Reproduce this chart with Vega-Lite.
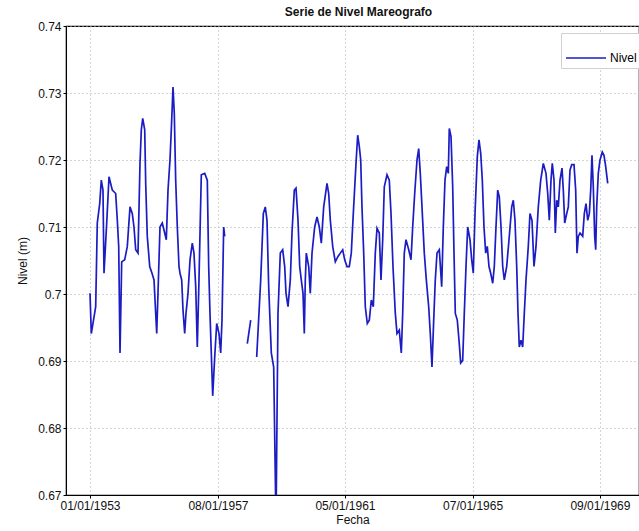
{
  "$schema": "https://vega.github.io/schema/vega-lite/v6.json",
  "autosize": "none",
  "width": 573,
  "height": 469,
  "padding": {"left": 66, "top": 26, "right": 0, "bottom": 36},
  "background": "white",
  "title": {"text": "Serie de Nivel Mareografo", "fontSize": 12, "fontWeight": "bold", "offset": 1, "dx": 6, "color": "#111"},
  "config": {
    "font": "Liberation Sans",
    "view": {"stroke": "black", "strokeWidth": 1.2},
    "axis": {"domainColor": "black", "tickColor": "black", "labelColor": "#111", "titleColor": "#111", "labelFontSize": 12, "titleFontSize": 12, "titleFontWeight": "normal", "grid": true, "gridDash": [1, 3], "gridColor": "#a8a8a8", "tickSize": 3}
  },
  "data": {"values": [
    {"t": 1953.000, "v": 0.7001, "s": 1}, {"t": 1953.041, "v": 0.6941, "s": 1}, {"t": 1953.179, "v": 0.6981, "s": 1}, {"t": 1953.229, "v": 0.7106, "s": 1}, {"t": 1953.305, "v": 0.7135, "s": 1}, {"t": 1953.355, "v": 0.7170, "s": 1}, {"t": 1953.408, "v": 0.7155, "s": 1}, {"t": 1953.440, "v": 0.7031, "s": 1}, {"t": 1953.525, "v": 0.7106, "s": 1}, {"t": 1953.597, "v": 0.7175, "s": 1}, {"t": 1953.701, "v": 0.7155, "s": 1}, {"t": 1953.807, "v": 0.7150, "s": 1}, {"t": 1953.858, "v": 0.7110, "s": 1}, {"t": 1953.902, "v": 0.7071, "s": 1}, {"t": 1953.943, "v": 0.6912, "s": 1}, {"t": 1953.996, "v": 0.7048, "s": 1}, {"t": 1954.090, "v": 0.7051, "s": 1}, {"t": 1954.172, "v": 0.7071, "s": 1}, {"t": 1954.257, "v": 0.7130, "s": 1}, {"t": 1954.329, "v": 0.7120, "s": 1}, {"t": 1954.382, "v": 0.7100, "s": 1}, {"t": 1954.436, "v": 0.7066, "s": 1}, {"t": 1954.508, "v": 0.7061, "s": 1}, {"t": 1954.571, "v": 0.7195, "s": 1}, {"t": 1954.612, "v": 0.7245, "s": 1}, {"t": 1954.656, "v": 0.7262, "s": 1}, {"t": 1954.719, "v": 0.7245, "s": 1}, {"t": 1954.750, "v": 0.7165, "s": 1}, {"t": 1954.800, "v": 0.7086, "s": 1}, {"t": 1954.876, "v": 0.7041, "s": 1}, {"t": 1954.948, "v": 0.7031, "s": 1}, {"t": 1955.011, "v": 0.7021, "s": 1}, {"t": 1955.064, "v": 0.6971, "s": 1}, {"t": 1955.096, "v": 0.6941, "s": 1}, {"t": 1955.136, "v": 0.7001, "s": 1}, {"t": 1955.199, "v": 0.7100, "s": 1}, {"t": 1955.271, "v": 0.7106, "s": 1}, {"t": 1955.347, "v": 0.7091, "s": 1}, {"t": 1955.397, "v": 0.7081, "s": 1}, {"t": 1955.451, "v": 0.7155, "s": 1}, {"t": 1955.513, "v": 0.7200, "s": 1}, {"t": 1955.554, "v": 0.7245, "s": 1}, {"t": 1955.608, "v": 0.7309, "s": 1}, {"t": 1955.648, "v": 0.7270, "s": 1}, {"t": 1955.692, "v": 0.7170, "s": 1}, {"t": 1955.743, "v": 0.7100, "s": 1}, {"t": 1955.796, "v": 0.7041, "s": 1}, {"t": 1955.828, "v": 0.7031, "s": 1}, {"t": 1955.881, "v": 0.7021, "s": 1}, {"t": 1955.922, "v": 0.6976, "s": 1}, {"t": 1955.975, "v": 0.6941, "s": 1}, {"t": 1956.016, "v": 0.6971, "s": 1}, {"t": 1956.079, "v": 0.7001, "s": 1}, {"t": 1956.142, "v": 0.7051, "s": 1}, {"t": 1956.214, "v": 0.7076, "s": 1}, {"t": 1956.267, "v": 0.7061, "s": 1}, {"t": 1956.321, "v": 0.7011, "s": 1}, {"t": 1956.371, "v": 0.6921, "s": 1}, {"t": 1956.424, "v": 0.7021, "s": 1}, {"t": 1956.465, "v": 0.7110, "s": 1}, {"t": 1956.497, "v": 0.7178, "s": 1}, {"t": 1956.604, "v": 0.7180, "s": 1}, {"t": 1956.685, "v": 0.7170, "s": 1}, {"t": 1956.729, "v": 0.7041, "s": 1}, {"t": 1956.770, "v": 0.6971, "s": 1}, {"t": 1956.811, "v": 0.6912, "s": 1}, {"t": 1956.855, "v": 0.6848, "s": 1}, {"t": 1956.918, "v": 0.6906, "s": 1}, {"t": 1956.981, "v": 0.6956, "s": 1}, {"t": 1957.053, "v": 0.6941, "s": 1}, {"t": 1957.106, "v": 0.6912, "s": 1}, {"t": 1957.147, "v": 0.6961, "s": 1}, {"t": 1957.200, "v": 0.7100, "s": 1}, {"t": 1957.232, "v": 0.7086, "s": 1},
    {"t": 1957.942, "v": 0.6926, "s": 2}, {"t": 1958.049, "v": 0.6961, "s": 2},
    {"t": 1958.237, "v": 0.6906, "s": 3}, {"t": 1958.363, "v": 0.7021, "s": 3}, {"t": 1958.445, "v": 0.7120, "s": 3}, {"t": 1958.507, "v": 0.7130, "s": 3}, {"t": 1958.561, "v": 0.7110, "s": 3}, {"t": 1958.614, "v": 0.7011, "s": 3}, {"t": 1958.696, "v": 0.6912, "s": 3}, {"t": 1958.771, "v": 0.6891, "s": 3}, {"t": 1958.844, "v": 0.6655, "s": 3}, {"t": 1958.906, "v": 0.6971, "s": 3}, {"t": 1958.979, "v": 0.7061, "s": 3}, {"t": 1959.054, "v": 0.7066, "s": 3}, {"t": 1959.117, "v": 0.7041, "s": 3}, {"t": 1959.158, "v": 0.7001, "s": 3}, {"t": 1959.221, "v": 0.6981, "s": 3}, {"t": 1959.293, "v": 0.7021, "s": 3}, {"t": 1959.346, "v": 0.7091, "s": 3}, {"t": 1959.419, "v": 0.7155, "s": 3}, {"t": 1959.472, "v": 0.7158, "s": 3}, {"t": 1959.535, "v": 0.7110, "s": 3}, {"t": 1959.588, "v": 0.7041, "s": 3}, {"t": 1959.638, "v": 0.7021, "s": 3}, {"t": 1959.692, "v": 0.7001, "s": 3}, {"t": 1959.733, "v": 0.6941, "s": 3}, {"t": 1959.764, "v": 0.7021, "s": 3}, {"t": 1959.796, "v": 0.7061, "s": 3}, {"t": 1959.871, "v": 0.7041, "s": 3}, {"t": 1959.921, "v": 0.7001, "s": 3}, {"t": 1959.975, "v": 0.7061, "s": 3}, {"t": 1960.059, "v": 0.7100, "s": 3}, {"t": 1960.132, "v": 0.7115, "s": 3}, {"t": 1960.204, "v": 0.7100, "s": 3}, {"t": 1960.267, "v": 0.7076, "s": 3}, {"t": 1960.342, "v": 0.7130, "s": 3}, {"t": 1960.446, "v": 0.7165, "s": 3}, {"t": 1960.499, "v": 0.7150, "s": 3}, {"t": 1960.550, "v": 0.7110, "s": 3}, {"t": 1960.625, "v": 0.7071, "s": 3}, {"t": 1960.707, "v": 0.7048, "s": 3}, {"t": 1960.791, "v": 0.7056, "s": 3}, {"t": 1960.864, "v": 0.7061, "s": 3}, {"t": 1960.939, "v": 0.7066, "s": 3}, {"t": 1961.002, "v": 0.7051, "s": 3}, {"t": 1961.074, "v": 0.7041, "s": 3}, {"t": 1961.146, "v": 0.7041, "s": 3}, {"t": 1961.209, "v": 0.7061, "s": 3}, {"t": 1961.272, "v": 0.7120, "s": 3}, {"t": 1961.357, "v": 0.7195, "s": 3}, {"t": 1961.410, "v": 0.7237, "s": 3}, {"t": 1961.461, "v": 0.7220, "s": 3}, {"t": 1961.505, "v": 0.7200, "s": 3}, {"t": 1961.545, "v": 0.7130, "s": 3}, {"t": 1961.599, "v": 0.7061, "s": 3}, {"t": 1961.649, "v": 0.6981, "s": 3}, {"t": 1961.712, "v": 0.6956, "s": 3}, {"t": 1961.775, "v": 0.6961, "s": 3}, {"t": 1961.838, "v": 0.6991, "s": 3}, {"t": 1961.901, "v": 0.6981, "s": 3}, {"t": 1961.963, "v": 0.7061, "s": 3}, {"t": 1962.017, "v": 0.7098, "s": 3}, {"t": 1962.089, "v": 0.7091, "s": 3}, {"t": 1962.142, "v": 0.7021, "s": 3}, {"t": 1962.196, "v": 0.7081, "s": 3}, {"t": 1962.246, "v": 0.7160, "s": 3}, {"t": 1962.331, "v": 0.7178, "s": 3}, {"t": 1962.403, "v": 0.7170, "s": 3}, {"t": 1962.457, "v": 0.7120, "s": 3}, {"t": 1962.519, "v": 0.7041, "s": 3}, {"t": 1962.592, "v": 0.6971, "s": 3}, {"t": 1962.645, "v": 0.6941, "s": 3}, {"t": 1962.717, "v": 0.6946, "s": 3}, {"t": 1962.780, "v": 0.6912, "s": 3}, {"t": 1962.824, "v": 0.6971, "s": 3}, {"t": 1962.874, "v": 0.7061, "s": 3}, {"t": 1962.928, "v": 0.7081, "s": 3}, {"t": 1963.013, "v": 0.7066, "s": 3}, {"t": 1963.085, "v": 0.7051, "s": 3}, {"t": 1963.138, "v": 0.7100, "s": 3}, {"t": 1963.201, "v": 0.7150, "s": 3}, {"t": 1963.273, "v": 0.7200, "s": 3}, {"t": 1963.327, "v": 0.7217, "s": 3}, {"t": 1963.377, "v": 0.7180, "s": 3}, {"t": 1963.430, "v": 0.7130, "s": 3}, {"t": 1963.503, "v": 0.7061, "s": 3}, {"t": 1963.566, "v": 0.7021, "s": 3}, {"t": 1963.641, "v": 0.6981, "s": 3}, {"t": 1963.691, "v": 0.6941, "s": 3}, {"t": 1963.744, "v": 0.6891, "s": 3}, {"t": 1963.798, "v": 0.6961, "s": 3}, {"t": 1963.848, "v": 0.7021, "s": 3}, {"t": 1963.902, "v": 0.7061, "s": 3}, {"t": 1963.974, "v": 0.7066, "s": 3}, {"t": 1964.049, "v": 0.7011, "s": 3}, {"t": 1964.100, "v": 0.7100, "s": 3}, {"t": 1964.153, "v": 0.7170, "s": 3}, {"t": 1964.206, "v": 0.7190, "s": 3}, {"t": 1964.257, "v": 0.7180, "s": 3}, {"t": 1964.288, "v": 0.7247, "s": 3}, {"t": 1964.342, "v": 0.7235, "s": 3}, {"t": 1964.395, "v": 0.7160, "s": 3}, {"t": 1964.436, "v": 0.7061, "s": 3}, {"t": 1964.477, "v": 0.6971, "s": 3}, {"t": 1964.539, "v": 0.6961, "s": 3}, {"t": 1964.593, "v": 0.6931, "s": 3}, {"t": 1964.646, "v": 0.6897, "s": 3}, {"t": 1964.709, "v": 0.6901, "s": 3}, {"t": 1964.759, "v": 0.6971, "s": 3}, {"t": 1964.813, "v": 0.7041, "s": 3}, {"t": 1964.866, "v": 0.7100, "s": 3}, {"t": 1964.938, "v": 0.7081, "s": 3}, {"t": 1964.992, "v": 0.7051, "s": 3}, {"t": 1965.042, "v": 0.7031, "s": 3}, {"t": 1965.096, "v": 0.7120, "s": 3}, {"t": 1965.168, "v": 0.7205, "s": 3}, {"t": 1965.221, "v": 0.7230, "s": 3}, {"t": 1965.275, "v": 0.7210, "s": 3}, {"t": 1965.325, "v": 0.7170, "s": 3}, {"t": 1965.378, "v": 0.7100, "s": 3}, {"t": 1965.432, "v": 0.7061, "s": 3}, {"t": 1965.482, "v": 0.7071, "s": 3}, {"t": 1965.535, "v": 0.7041, "s": 3}, {"t": 1965.589, "v": 0.7031, "s": 3}, {"t": 1965.652, "v": 0.7016, "s": 3}, {"t": 1965.702, "v": 0.7041, "s": 3}, {"t": 1965.755, "v": 0.7100, "s": 3}, {"t": 1965.809, "v": 0.7155, "s": 3}, {"t": 1965.859, "v": 0.7145, "s": 3}, {"t": 1965.913, "v": 0.7100, "s": 3}, {"t": 1965.966, "v": 0.7041, "s": 3}, {"t": 1966.016, "v": 0.7021, "s": 3}, {"t": 1966.091, "v": 0.7041, "s": 3}, {"t": 1966.164, "v": 0.7081, "s": 3}, {"t": 1966.249, "v": 0.7130, "s": 3}, {"t": 1966.299, "v": 0.7140, "s": 3}, {"t": 1966.352, "v": 0.7110, "s": 3}, {"t": 1966.406, "v": 0.7041, "s": 3}, {"t": 1966.447, "v": 0.6971, "s": 3}, {"t": 1966.487, "v": 0.6921, "s": 3}, {"t": 1966.541, "v": 0.6931, "s": 3}, {"t": 1966.594, "v": 0.6921, "s": 3}, {"t": 1966.644, "v": 0.6971, "s": 3}, {"t": 1966.698, "v": 0.7021, "s": 3}, {"t": 1966.770, "v": 0.7071, "s": 3}, {"t": 1966.823, "v": 0.7120, "s": 3}, {"t": 1966.886, "v": 0.7110, "s": 3}, {"t": 1966.949, "v": 0.7041, "s": 3}, {"t": 1967.012, "v": 0.7071, "s": 3}, {"t": 1967.084, "v": 0.7130, "s": 3}, {"t": 1967.160, "v": 0.7170, "s": 3}, {"t": 1967.242, "v": 0.7195, "s": 3}, {"t": 1967.326, "v": 0.7180, "s": 3}, {"t": 1967.380, "v": 0.7150, "s": 3}, {"t": 1967.430, "v": 0.7110, "s": 3}, {"t": 1967.483, "v": 0.7170, "s": 3}, {"t": 1967.524, "v": 0.7195, "s": 3}, {"t": 1967.578, "v": 0.7170, "s": 3}, {"t": 1967.619, "v": 0.7091, "s": 3}, {"t": 1967.663, "v": 0.7140, "s": 3}, {"t": 1967.713, "v": 0.7130, "s": 3}, {"t": 1967.766, "v": 0.7170, "s": 3}, {"t": 1967.829, "v": 0.7188, "s": 3}, {"t": 1967.870, "v": 0.7155, "s": 3}, {"t": 1967.914, "v": 0.7106, "s": 3}, {"t": 1967.977, "v": 0.7120, "s": 3}, {"t": 1968.027, "v": 0.7130, "s": 3}, {"t": 1968.080, "v": 0.7185, "s": 3}, {"t": 1968.134, "v": 0.7193, "s": 3}, {"t": 1968.206, "v": 0.7193, "s": 3}, {"t": 1968.259, "v": 0.7155, "s": 3}, {"t": 1968.300, "v": 0.7061, "s": 3}, {"t": 1968.341, "v": 0.7086, "s": 3}, {"t": 1968.394, "v": 0.7091, "s": 3}, {"t": 1968.479, "v": 0.7086, "s": 3}, {"t": 1968.530, "v": 0.7120, "s": 3}, {"t": 1968.583, "v": 0.7135, "s": 3}, {"t": 1968.636, "v": 0.7110, "s": 3}, {"t": 1968.687, "v": 0.7120, "s": 3}, {"t": 1968.731, "v": 0.7155, "s": 3}, {"t": 1968.771, "v": 0.7207, "s": 3}, {"t": 1968.812, "v": 0.7160, "s": 3}, {"t": 1968.856, "v": 0.7086, "s": 3}, {"t": 1968.888, "v": 0.7066, "s": 3}, {"t": 1968.919, "v": 0.7130, "s": 3}, {"t": 1968.969, "v": 0.7180, "s": 3}, {"t": 1969.023, "v": 0.7200, "s": 3}, {"t": 1969.095, "v": 0.7212, "s": 3}, {"t": 1969.148, "v": 0.7207, "s": 3}, {"t": 1969.202, "v": 0.7190, "s": 3}, {"t": 1969.265, "v": 0.7165, "s": 3}
  ]},
  "mark": {"type": "line", "clip": true, "strokeWidth": 1.7},
  "encoding": {
    "x": {"field": "t", "type": "quantitative",
      "scale": {"domain": [1952.246, 1970.248], "nice": false, "zero": false},
      "axis": {"title": "Fecha", "titlePadding": 3, "values": [1953, 1957.02, 1961.01, 1965.02, 1969.02],
        "labelExpr": "datum.value < 1955 ? '01/01/1953' : datum.value < 1959 ? '08/01/1957' : datum.value < 1963 ? '05/01/1961' : datum.value < 1967 ? '07/01/1965' : '09/01/1969'",
        "labelPadding": 2, "labelFlush": false}},
    "y": {"field": "v", "type": "quantitative",
      "scale": {"domain": [0.67, 0.74], "nice": false, "zero": false},
      "axis": {"title": "Nivel (m)", "titlePadding": 8, "values": [0.67, 0.68, 0.69, 0.7, 0.71, 0.72, 0.73, 0.74], "format": ".2~f", "labelPadding": 2}},
    "detail": {"field": "s", "type": "nominal"},
    "color": {"datum": "Nivel", "scale": {"range": ["#1c1cc4"]},
      "legend": {"title": null, "orient": "none", "legendX": 495, "legendY": 7, "symbolType": "stroke", "symbolSize": 1600, "symbolStrokeWidth": 1.5, "labelFontSize": 12, "labelOffset": 3, "padding": 4, "strokeColor": "#d0d0d0", "fillColor": "white"}}
  }
}
